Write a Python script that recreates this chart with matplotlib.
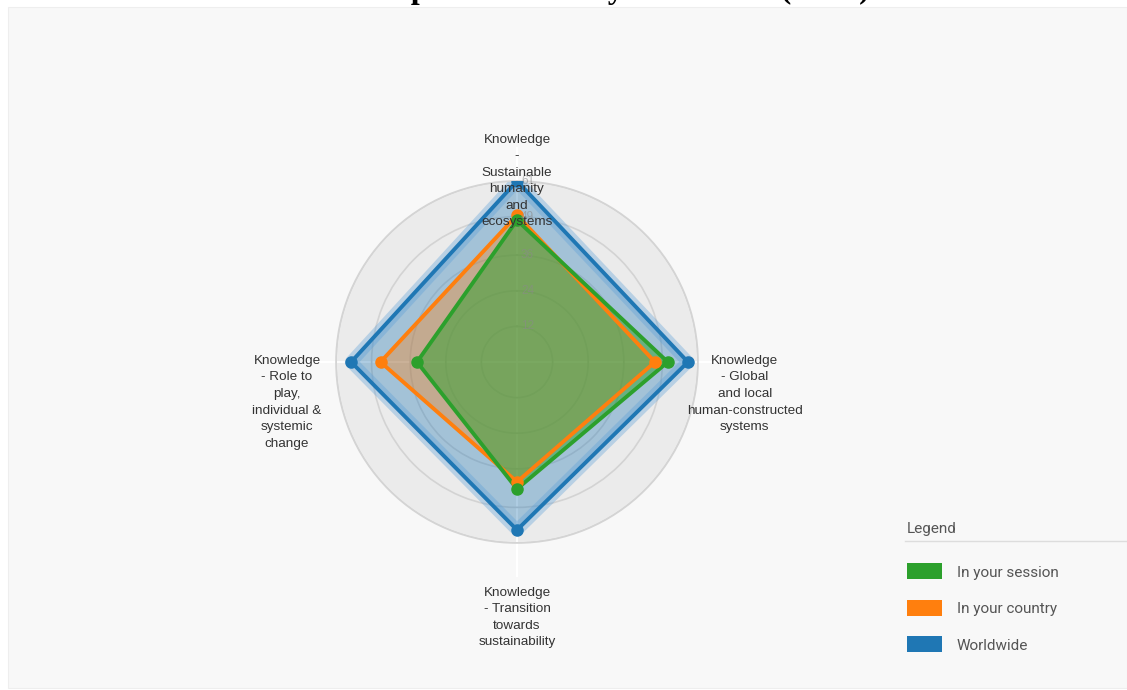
import matplotlib.pyplot as plt
import numpy as np
from matplotlib.patches import Rectangle
from matplotlib.lines import Line2D
from matplotlib.transforms import offset_copy

# axes, clockwise starting from the top
categories = [
    "Knowledge\n-\nSustainable\nhumanity\nand\necosystems",
    "Knowledge\n- Global\nand local\nhuman-constructed\nsystems",
    "Knowledge\n- Transition\ntowards\nsustainability",
    "Knowledge\n- Role to\nplay,\nindividual &\nsystemic\nchange",
]
series_names = ["In your session", "In your country", "Worldwide"]
session = [47.8, 50.8, 42.8, 33.7]
country = [49.5, 46.5, 40.4, 46.0]
worldwide = [61.0, 57.6, 56.6, 55.9]
ticks = [12, 24, 36, 49, 61]
tick_labels = ["12", "24", "36", "49", "61"]

green = "#2ca02c"
orange = "#ff7f0e"
blue = "#1f77b4"

W, H = 1127, 690
fig = plt.figure(figsize=(W / 100, H / 100), dpi=100)
fig.patch.set_facecolor("white")

# light grey panel
fig.patches.append(Rectangle((8 / W, 2 / H), 1 - 8 / W, 681 / H, transform=fig.transFigure,
                             facecolor="#f8f8f8", edgecolor="#eeeeee", lw=0.8, zorder=-1))

# title, cut off by the top edge in the original
fig.text(567 / W, 1 + 1.5 / H, "Sum of all processes in my institution (n=12)",
         ha="center", va="baseline", fontsize=23, fontweight="bold",
         family="Liberation Serif", color="black")

# polar axes: centre (517, 362), radius 181 px
cx, cy, R = 517, 362, 181
ax = fig.add_axes([(cx - R) / W, (H - cy - R) / H, 2 * R / W, 2 * R / H], projection="polar")
ax.set_theta_offset(np.pi / 2)
ax.set_theta_direction(-1)
ax.set_ylim(0, ticks[-1])
ax.set_facecolor("#ebebeb")
ax.spines["polar"].set_color("#d4d4d4")
ax.spines["polar"].set_linewidth(1.2)

angles = np.linspace(0, 2 * np.pi, len(categories), endpoint=False)
ax.set_xticks(angles)
ax.set_xticklabels([])
ax.set_yticks(ticks)
ax.set_yticklabels([])
ax.yaxis.grid(True, color="#d3d3d3", lw=1.2)
ax.xaxis.grid(True, color="white", lw=1.2)

# spokes continue past the outer ring
for a in angles:
    ax.plot([a, a], [ticks[-1], 72], color="white", lw=1.5, clip_on=False, zorder=1)

closed = np.concatenate([angles, angles[:1]])
for vals, col, fa in [(worldwide, blue, 0.35), (country, orange, 0.35), (session, green, 0.5)]:
    v = list(vals) + [vals[0]]
    ax.fill(closed, v, color=col, alpha=fa, lw=0, zorder=2)
    if col == blue:
        ax.plot(closed, v, color="#5b9fd8", lw=9, alpha=0.35, zorder=2)
    ax.plot(closed, v, color=col, lw=2.8, zorder=3, solid_joinstyle="miter")
    ax.plot(angles, vals, "o", color=col, ms=8, zorder=4)

# radial tick labels along the top spoke
tr = offset_copy(ax.transData, fig=fig, x=4, y=0, units="dots")
for t, lab in zip(ticks, tick_labels):
    ax.text(0, t, lab, transform=tr, ha="left", va="center", fontsize=8.5,
            color="#8a8a8a", alpha=0.6, family="Liberation Sans", zorder=5)

# category labels
lab_kw = dict(ha="center", multialignment="center", fontsize=9.7, color="#333333",
              family="Liberation Sans", linespacing=1.5, zorder=6)
ax.text(angles[0], 61, categories[0], va="center", **lab_kw)
ax.text(angles[1], 76.8, categories[1], va="top",
        transform=offset_copy(ax.transData, fig=fig, x=0, y=7, units="dots"), **lab_kw)
ax.text(angles[2], 75.8, categories[2], va="top", **lab_kw)
ax.text(angles[3], 77.5, categories[3], va="top",
        transform=offset_copy(ax.transData, fig=fig, x=0, y=7, units="dots"), **lab_kw)

# legend drawn by hand in the lower right
fig.text(907 / W, 1 - 529 / H, "Legend", ha="left", va="center", fontsize=11,
         family="Roboto", color="#555555")
fig.add_artist(Line2D([905 / W, 1], [1 - 541 / H] * 2, color="#dddddd", lw=1))
for i, (name, col) in enumerate(zip(series_names, [green, orange, blue])):
    yc = 571 + i * 36.5
    fig.patches.append(Rectangle((907 / W, 1 - (yc + 8) / H), 35 / W, 16 / H,
                                 transform=fig.transFigure, facecolor=col, edgecolor="none"))
    fig.text(957 / W, 1 - (yc + 2) / H, name, ha="left", va="center", fontsize=11,
             family="Roboto", color="#555555")

plt.savefig("out.png", dpi=100, facecolor=fig.get_facecolor())
